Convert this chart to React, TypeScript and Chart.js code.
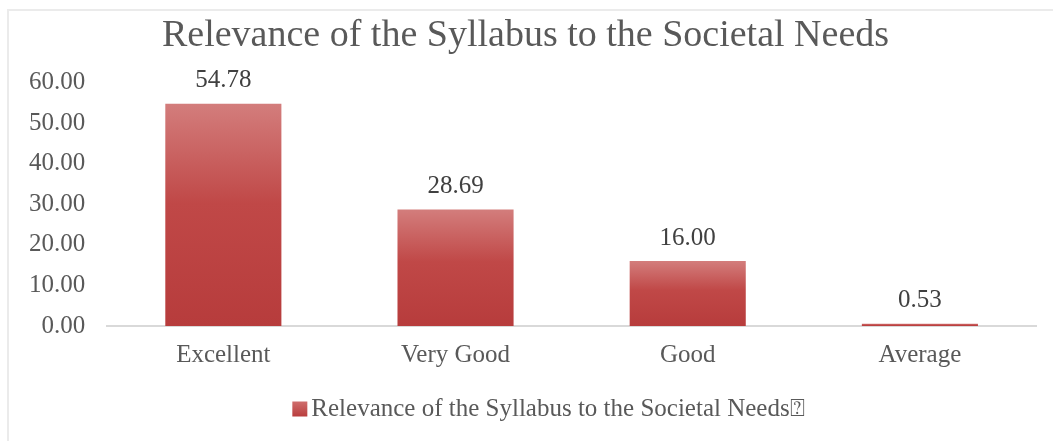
import React, { useEffect, useRef } from "react";
import { Chart, registerables } from "chart.js";

Chart.register(...registerables);

const categories = ["Excellent", "Very Good", "Good", "Average"];
const values = [54.78, 28.69, 16.0, 0.53];
const seriesLabel = "Relevance of the Syllabus to the Societal Needs\u2370";
const chartTitle = "Relevance of the Syllabus to the Societal Needs";
const yMin = 0;
const yMax = 60;
const yStep = 10;

const FONT = "'Liberation Serif', 'Times New Roman', serif";

const dataLabelPlugin = {
  id: "dataLabels",
  afterDatasetsDraw(chart: any) {
    const ctx = chart.ctx;
    ctx.save();
    ctx.font = `25px ${FONT}`;
    ctx.fillStyle = "#404040";
    ctx.textAlign = "center";
    ctx.textBaseline = "middle";
    chart.data.datasets.forEach((ds: any, di: number) => {
      const meta = chart.getDatasetMeta(di);
      meta.data.forEach((el: any, i: number) => {
        const v = ds.data[i];
        ctx.fillText(Number(v).toFixed(2), el.x, el.y - 23);
      });
    });
    ctx.restore();
  },
};

const legendPlugin = {
  id: "customLegend",
  afterDraw(chart: any) {
    const ctx = chart.ctx;
    ctx.save();
    ctx.font = `25px ${FONT}`;
    chart.data.datasets.forEach((ds: any) => {
      const label = ds.label as string;
      const tw = ctx.measureText(label).width;
      const box = 15;
      const gap = 4;
      const total = box + gap + tw;
      const cx = chart.width / 2 + 22;
      const cy = 409;
      const x0 = cx - total / 2;
      const g = ctx.createLinearGradient(0, cy - box / 2, 0, cy + box / 2);
      g.addColorStop(0, "#cf6e6d");
      g.addColorStop(1, "#b93d3d");
      ctx.fillStyle = g;
      ctx.fillRect(x0, cy - box / 2, box, box);
      ctx.fillStyle = "#595959";
      ctx.textAlign = "left";
      ctx.textBaseline = "middle";
      ctx.fillText(label, x0 + box + gap, cy);
    });
    ctx.restore();
  },
};

export default function App() {
  const ref = useRef<HTMLCanvasElement | null>(null);

  useEffect(() => {
    if (!ref.current) return;
    const chart = new Chart(ref.current, {
      type: "bar",
      data: {
        labels: categories,
        datasets: [
          {
            label: seriesLabel,
            data: values,
            backgroundColor: (c: any) => {
              const ch = c.chart;
              const ys = ch.scales && ch.scales.y;
              if (!ys || c.type !== "data") return "#c0504d";
              const top = ys.getPixelForValue(c.raw);
              const bot = ys.getPixelForValue(0);
              if (!isFinite(top) || !isFinite(bot) || Math.abs(bot - top) < 1) return "#c44e4d";
              const g = ch.ctx.createLinearGradient(0, top, 0, bot);
              g.addColorStop(0, "#d37d7c");
              g.addColorStop(0.45, "#c04847");
              g.addColorStop(1, "#b73c3c");
              return g;
            },
            borderWidth: 0,
            categoryPercentage: 1,
            barPercentage: 0.5,
          },
        ],
      },
      options: {
        responsive: false,
        animation: false,
        layout: { padding: { left: 15, right: 17, top: 0, bottom: 65 } },
        plugins: {
          title: {
            display: true,
            text: chartTitle,
            color: "#595959",
            font: { family: FONT, size: 38, weight: "normal", lineHeight: 1.2 },
            padding: { top: 13, bottom: 24 },
          },
          legend: { display: false },
          tooltip: { enabled: false },
        },
        scales: {
          x: {
            grid: { display: false },
            border: { display: true, color: "#d9d9d9", width: 2 },
            ticks: {
              color: "#595959",
              font: { family: FONT, size: 25, lineHeight: 1.2 },
              padding: 6,
            },
          },
          y: {
            min: yMin,
            max: yMax,
            grid: { display: false },
            border: { display: false },
            ticks: {
              stepSize: yStep,
              color: "#595959",
              font: { family: FONT, size: 25, lineHeight: 1.2 },
              padding: 14,
              callback: (v: any) => Number(v).toFixed(2),
            },
          },
        },
      },
      plugins: [dataLabelPlugin, legendPlugin],
    });
    return () => chart.destroy();
  }, []);

  return (
    <div style={{ position: "fixed", left: 0, top: 0, width: 1053, height: 441, background: "#fff" }}>
      <div
        style={{
          position: "absolute",
          left: 7,
          top: 9,
          width: 1046,
          height: 432,
          borderTop: "2px solid #ebebeb",
          borderLeft: "2px solid #ebebeb",
          boxSizing: "border-box",
        }}
      />
      <canvas ref={ref} width={1053} height={441} style={{ position: "absolute", left: 0, top: 0 }} />
    </div>
  );
}
